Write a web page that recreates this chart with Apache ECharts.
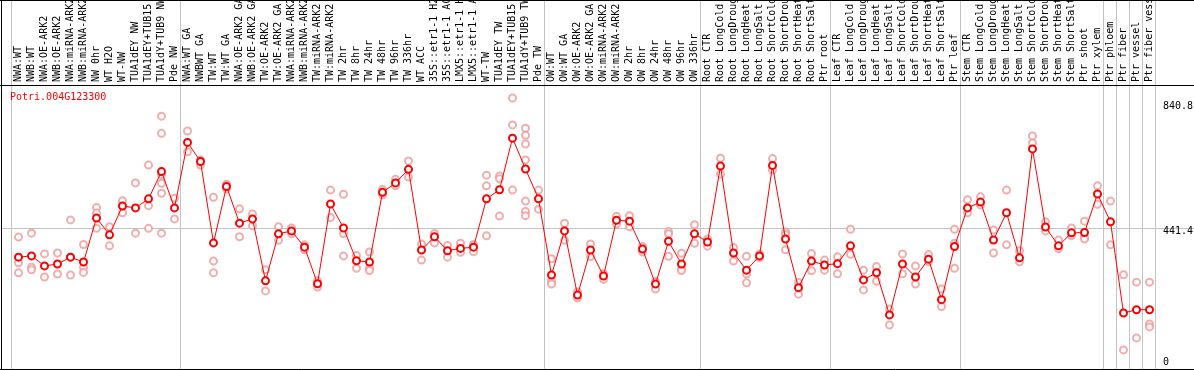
<!DOCTYPE html>
<html><head><meta charset="utf-8">
<script src="https://cdn.jsdelivr.net/npm/echarts@6/dist/echarts.min.js"></script>
<style>html,body{margin:0;padding:0;background:#fff}#c{width:1194px;height:370px}</style>
</head><body><div id="c"></div>
<script>
const geneId = 'Potri.004G123300';

const categories = [
  'NWA:WT','NWB:WT','NWA:OE-ARK2','NWB:OE-ARK2','NWA:miRNA-ARK2','NWB:miRNA-ARK2','NW 0hr','WT H2O','WT-NW',
  'TUA1dEY NW','TUA1dEY+TUB15 NW','TUA1dY+TUB9 NW','Pde NW',
  'NWA:WT GA','NWBWT GA','TW:WT','TW:WT GA','NWA:OE-ARK2 GA','NWB:OE-ARK2 GA','TW:OE-ARK2','TW:OE-ARK2 GA',
  'NWA:miRNA-ARK2','NWB:miRNA-ARK2','TW:miRNA-ARK2','TW:miRNA-ARK2','TW 2hr','TW 8hr','TW 24hr','TW 48hr','TW 96hr','TW 336hr',
  'WT ACC','35S::etr1-1 H2O','35S::etr1-1 ACC','LMX5::etr1-1 H2O','LMX5::etr1-1 ACC','WT-TW',
  'TUA1dEY TW','TUA1dEY+TUB15 TW','TUA1dY+TUB9 TW','Pde TW',
  'OW:WT','OW:WT GA','OW:OE-ARK2','OW:OE-ARK2 GA','OW:miRNA-ARK2','OW:miRNA-ARK2','OW 2hr','OW 8hr','OW 24hr','OW 48hr','OW 96hr','OW 336hr',
  'Root CTR','Root LongCold','Root LongDrought','Root LongHeat','Root LongSalt','Root ShortCold','Root ShortDrought','Root ShortHeat','Root ShortSalt','Ptr root',
  'Leaf CTR','Leaf LongCold','Leaf LongDrought','Leaf LongHeat','Leaf LongSalt','Leaf ShortCold','Leaf ShortDrought','Leaf ShortHeat','Leaf ShortSalt','Ptr leaf',
  'Stem CTR','Stem LongCold','Stem LongDrought','Stem LongHeat','Stem LongSalt','Stem ShortCold','Stem ShortDrought','Stem ShortHeat','Stem ShortSalt','Ptr shoot',
  'Ptr xylem','Ptr phloem','Ptr fiber','Ptr vessel','Ptr fiber vessel'
];

const meanValues = [
  351,355,324,330,351,336,472,420,509,
  503,531,615,503,
  705,646,395,569,456,469,278,423,
  432,382,269,515,441,340,336,551,580,622,
  373,414,371,378,382,531,
  559,718,623,531,
  296,432,234,373,293,465,462,376,268,400,330,423,
  398,632,364,311,355,634,407,257,339,327,
  331,386,281,303,173,330,290,345,220,384,
  503,521,404,488,349,685,444,386,426,427,
  546,460,179,189,189
];

const replicateValues = [
  [413,334,303],[425,320,312],[361,290],[364,299],[466,296,351],[390,319,304],[504,487,440],[445,386],[525,488],
  [580,425],[635,510,440],[786,733,605,579,548,425],[533,469],
  [740,676],[651,635],[536,339,303],[576,561],[500,414],[484,448],[312,247],[445,403],
  [441,423],[389,374],[278,259],[558,473],[545,424,355],[356,317],[367,317,310],[560,543],[591,571],[648,598],
  [392,342],[424,395],[387,351],[394,366],[390,368],[604,571,417],
  [601,593,478],[842,759,558],[749,727,700,651,524,492,479],[558,499],
  [346,277,268],[456,403],[225,244],[392,353],[283,300],[477,453],[479,445],[384,367],[276,253],[430,423,354],[363,316,310],[451,394],
  [407,385],[656,607],[381,339],[354,299,272],[361,349],[655,620],[429,421,374],[273,237],[362,309],[342,311],
  [352,300],[437,360],[311,250],[322,277],[191,142],[361,300],[324,268],[359,337],[253,199],[437,394,317],
  [528,488],[537,512],[435,364],[558,389],[371,337],[725,703],[460,432],[404,377],[441,417],[462,413,407],
  [571,514],[524,389],[297,65],[274,102],[274,145,136]
];

const yTickValues = [0, 441.4, 840.8];
const referenceLineValue = 441.4;
const groupStartIndices = [0, 13, 41, 53, 63, 73, 84, 85, 86, 87, 88];
const yMax = 882;

const FONT = 'DejaVu Sans Mono';
const chart = echarts.init(document.getElementById('c'), null, {renderer: 'canvas'});

const repData = [];
replicateValues.forEach((arr, i) => arr.forEach(v => repData.push([i, v])));

chart.setOption({
  animation: false,
  backgroundColor: '#ffffff',
  grid: {left: 12, width: 1144, top: 85, height: 286, containLabel: false, outerBoundsMode: 'none'},
  xAxis: {
    type: 'category', position: 'top', data: categories, boundaryGap: true,
    axisLine: {show: false}, axisTick: {show: false}, splitLine: {show: false},
    axisLabel: {interval: 0, rotate: 90, margin: 3, color: '#000', fontFamily: FONT, fontSize: 10, hideOverlap: false}
  },
  yAxis: {
    type: 'value', min: 0, max: yMax, show: false, splitLine: {show: false}
  },
  series: [
    {
      type: 'scatter', data: repData, symbol: 'emptyCircle', symbolSize: 7, z: 3,
      itemStyle: {color: '#ee9a9a', borderWidth: 1.2}, silent: true
    },
    {
      type: 'line', data: meanValues, symbol: 'emptyCircle', symbolSize: 7, z: 4, showAllSymbol: true,
      lineStyle: {color: '#ff0000', width: 1},
      itemStyle: {color: '#ff0000', borderWidth: 1.6}, silent: true
    }
  ]
});

const x0 = chart.convertToPixel({xAxisIndex: 0}, 0);
const band = chart.convertToPixel({xAxisIndex: 0}, 1) - x0;
const yPix = v => chart.convertToPixel({yAxisIndex: 0}, v);
const W = 1194, H = 370;
const crisp = v => Math.round(v) + 0.5;
const g = [];

groupStartIndices.forEach(i => {
  const x = crisp(x0 - band / 2 + i * band - 1);
  g.push({type: 'line', z: 0, silent: true, shape: {x1: x, y1: 0, x2: x, y2: 369}, style: {stroke: '#c4c4c4', lineWidth: 1}});
});
const yr = crisp(yPix(referenceLineValue));
g.push({type: 'line', z: 0, silent: true, shape: {x1: 2, y1: yr, x2: W, y2: yr}, style: {stroke: '#c4c4c4', lineWidth: 1}});

// frame
g.push({type: 'line', z: 10, silent: true, shape: {x1: 0, y1: 0.5, x2: W, y2: 0.5}, style: {stroke: '#000', lineWidth: 1}});
g.push({type: 'line', z: 10, silent: true, shape: {x1: 0, y1: 85.5, x2: W, y2: 85.5}, style: {stroke: '#000', lineWidth: 1}});
g.push({type: 'line', z: 10, silent: true, shape: {x1: 0, y1: 369.5, x2: W, y2: 369.5}, style: {stroke: '#000', lineWidth: 1}});
g.push({type: 'line', z: 10, silent: true, shape: {x1: 1.5, y1: 0, x2: 1.5, y2: H}, style: {stroke: '#000', lineWidth: 1}});

// y tick labels
const maxTick = Math.max(...yTickValues), minTick = Math.min(...yTickValues);
yTickValues.forEach(v => {
  let y = yPix(v);
  if (v === maxTick) y += 8; else if (v === minTick) y -= 9; else y += 4;
  g.push({type: 'text', z: 10, silent: true, x: 1163, y: y,
    style: {text: String(v), fill: '#000', font: '10px "' + FONT + '"', textAlign: 'left', textVerticalAlign: 'middle', align: 'left', verticalAlign: 'middle'}});
});

// gene id title
g.push({type: 'text', z: 10, silent: true, x: 10, y: 97,
  style: {text: geneId, fill: '#ff0000', font: '10px "' + FONT + '"', textAlign: 'left', textVerticalAlign: 'middle', align: 'left', verticalAlign: 'middle'}});

chart.setOption({graphic: g});
</script></body></html>
